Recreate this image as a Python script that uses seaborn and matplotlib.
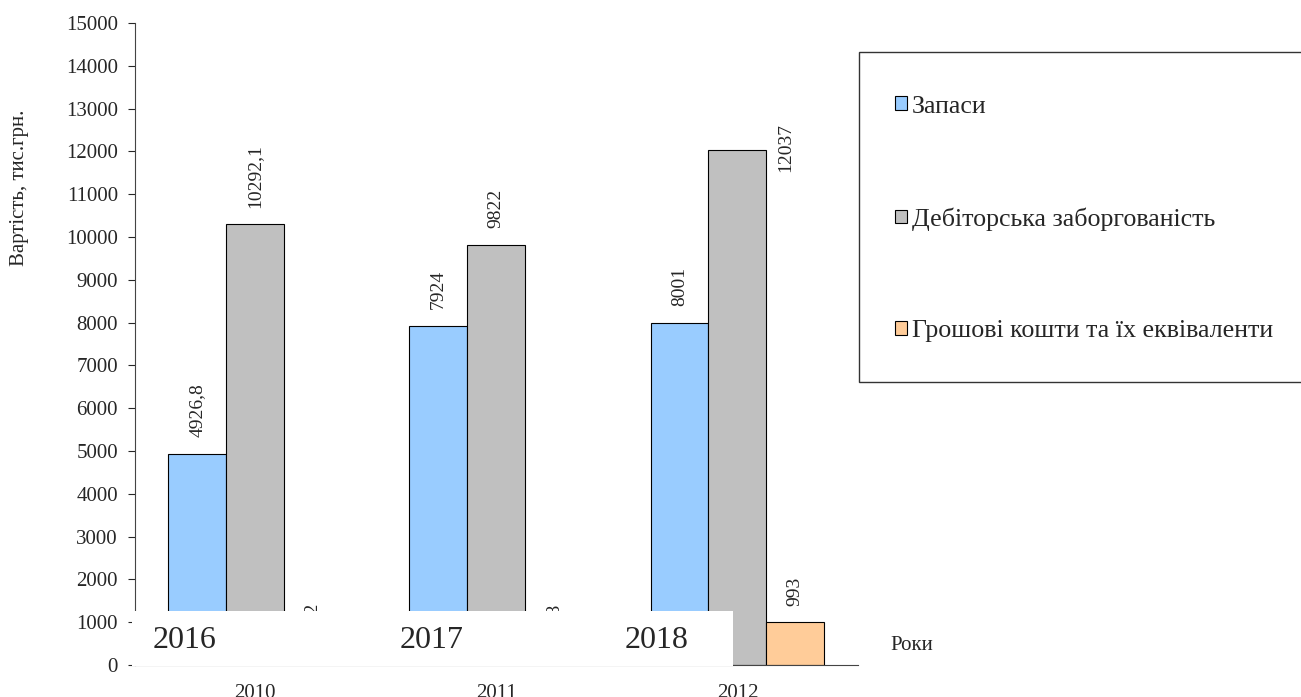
import numpy as np
import pandas as pd
import matplotlib
matplotlib.use("Agg")
import matplotlib.pyplot as plt
from matplotlib.patches import Rectangle
import seaborn as sns

# data
years_hidden = ["2010", "2011", "2012"]
years_shown = ["2016", "2017", "2018"]
series = ["Запаси", "Дебіторська заборгованість", "Грошові кошти та їх еквіваленти"]
zapasy = [4926.8, 7924, 8001]
debitor = [10292.1, 9822, 12037]
groshi = [392, 348, 993]
colors = ["#99CCFF", "#C0C0C0", "#FFCC99"]

df = pd.DataFrame({
    "year": years_hidden * 3,
    "series": np.repeat(series, 3),
    "value": zapasy + debitor + groshi,
})

sns.set_style("ticks")
plt.rcParams["font.family"] = ["Liberation Serif", "DejaVu Serif"]

fig = plt.figure(figsize=(13.01, 6.97), dpi=100)
ax = fig.add_axes([134.5 / 1301, 32 / 697, 723.5 / 1301, 642 / 697])

sns.barplot(data=df, x="year", y="value", hue="series", palette=colors,
            width=0.72, gap=0, edgecolor="black", linewidth=0.8,
            saturation=1, ax=ax, legend=True)

def fmt(v):
    s = f"{v:.1f}".rstrip("0").rstrip(".")
    return s.replace(".", ",")

for i, cont in enumerate(ax.containers):
    labs = [fmt(b.get_height()) for b in cont]
    if i == 1:
        # the last receivables label sits beside the bar top
        last = cont[-1]
        labs[-1] = ""
        ax.annotate(fmt(last.get_height()),
                    xy=(last.get_x() + last.get_width(), last.get_height()),
                    xytext=(14, 1.5), textcoords="offset points",
                    rotation=90, ha="center", va="center", fontsize=14)
    ax.bar_label(cont, labels=labs, rotation=90, padding=12, fontsize=14)

ax.set_ylim(0, 15000)
ax.set_xlim(-0.5, 2.5)
ax.set_yticks(range(0, 15001, 1000))
ax.tick_params(axis="y", labelsize=15, length=5, width=0.8, pad=7)
ax.tick_params(axis="x", labelsize=15, length=0, pad=14)
ax.set_xlabel("")
ax.set_ylabel("Вартість, тис.грн.", fontsize=15)
ax.yaxis.set_label_coords(-0.146, 0.743)
for side in ["top", "right"]:
    ax.spines[side].set_visible(False)
for side in ["left", "bottom"]:
    ax.spines[side].set_color("#444444")
    ax.spines[side].set_linewidth(0.8)

handles, labels = ax.get_legend_handles_labels()
ax.get_legend().remove()

# legend frame running off the right edge
fig.patches.append(Rectangle((859 / 1301, 1 - 382 / 697), 460 / 1301, 330 / 697,
                             transform=fig.transFigure, facecolor="white",
                             edgecolor="#333333", linewidth=1.0))
leg = fig.legend(handles, labels, loc="center left",
                 bbox_to_anchor=(895 / 1301, 1 - 219 / 697),
                 frameon=False, fontsize=18.7, labelspacing=3.45,
                 handlelength=0.45, handleheight=0.45, handletextpad=0.2,
                 borderpad=0, borderaxespad=0)
for h in leg.legend_handles:
    h.set_edgecolor("black")
    h.set_linewidth(0.8)

# white patch with the new years pasted over the bottom
fig.patches.append(Rectangle((132 / 1301, 1 - 666 / 697), 601 / 1301, 55 / 697,
                             transform=fig.transFigure, facecolor="white",
                             edgecolor="none", zorder=5))
for x, yr in zip([185, 432, 657], years_shown):
    fig.text(x / 1301, 1 - 641 / 697, yr, ha="center", va="center",
             fontsize=23, zorder=6)

fig.text(890 / 1301, 1 - 645 / 697, "Роки", ha="left", va="center", fontsize=15)

fig.savefig("out.png", dpi=100)
